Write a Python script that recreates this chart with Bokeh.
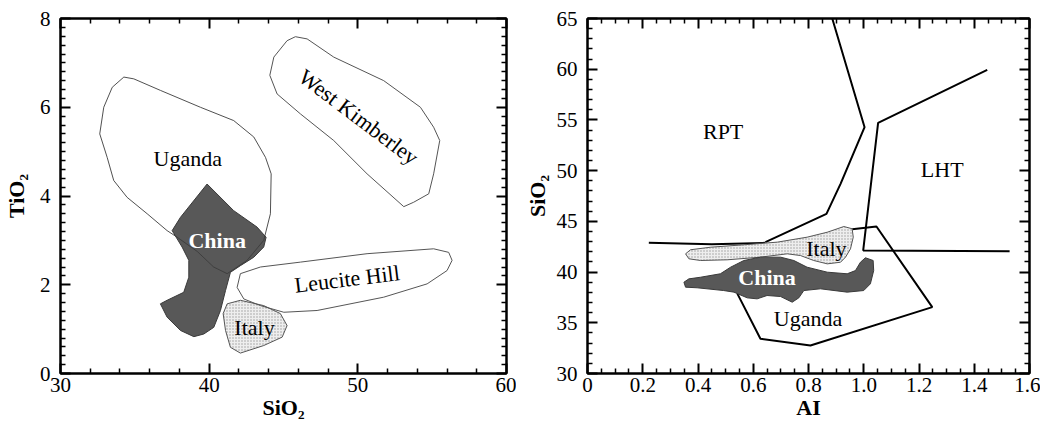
from bokeh.plotting import figure
from bokeh.layouts import row
from bokeh.models import LinearAxis, FixedTicker, Range1d, CustomLabelingPolicy
from bokeh.core.properties import value
from bokeh.embed import file_html
from bokeh.resources import INLINE

SERIF = "Liberation Serif"

# ---------------- Left panel: TiO2 vs SiO2 ----------------
left_x_ticks = [30, 40, 50, 60]
left_x_labels = ["30", "40", "50", "60"]
left_x_minor = [v for v in range(30, 61, 2) if v % 10 != 0]
left_y_ticks = [0, 2, 4, 6, 8]
left_y_labels = ["0", "2", "4", "6", "8"]
left_y_minor = [round(i * 0.2, 1) for i in range(0, 41) if i % 10 != 0]

uganda_L_x = [34.26, 33.48, 32.91, 32.64, 33.14, 33.58, 34.48, 35.83, 37.17, 37.85, 39.2, 40.3,
              41.21, 42.55, 43.67, 44.12, 44.17, 43.79, 43.0, 41.65, 39.41, 36.72, 34.93]
uganda_L_y = [6.68, 6.45, 6.0, 5.40, 4.87, 4.35, 3.97, 3.60, 3.22, 3.07, 2.75, 2.40,
              2.25, 2.55, 3.0, 3.60, 4.50, 4.87, 5.33, 5.70, 6.0, 6.38, 6.64]

kimberley_x = [45.80, 45.24, 44.35, 44.08, 44.57, 46.14, 48.38, 50.62, 53.09, 53.76, 54.77,
               55.10, 55.51, 55.10, 54.21, 51.74, 48.38, 46.59]
kimberley_y = [7.59, 7.50, 7.13, 6.72, 6.30, 5.85, 5.25, 4.50, 3.76, 3.86, 4.05,
               4.50, 5.25, 5.55, 6.0, 6.60, 7.13, 7.54]

leucite_x = [41.88, 42.10, 43.45, 46.14, 50.62, 55.10, 56.11, 56.34, 56.0, 54.66, 51.74,
             47.26, 45.02, 43.45, 42.33]
leucite_y = [1.94, 2.25, 2.40, 2.51, 2.70, 2.81, 2.73, 2.55, 2.32, 2.02, 1.72,
             1.42, 1.38, 1.53, 1.68]

italy_L_x = [41.21, 42.10, 43.67, 44.79, 45.24, 44.91, 43.67, 42.10, 41.43, 41.10, 40.94]
italy_L_y = [1.57, 1.65, 1.53, 1.35, 1.08, 0.82, 0.63, 0.46, 0.59, 0.97, 1.35]

china_L_x = [39.86, 41.65, 43.22, 43.83, 43.67, 43.0, 42.10, 41.43, 41.10, 40.76, 40.31,
             39.64, 38.97, 38.07, 37.17, 36.72, 37.17, 38.29, 38.63, 38.63, 38.18, 37.51, 38.07]
china_L_y = [4.27, 3.67, 3.30, 3.07, 2.85, 2.62, 2.43, 2.28, 1.87, 1.42, 1.04,
             0.89, 0.83, 0.97, 1.27, 1.57, 1.65, 1.83, 2.17, 2.55, 2.85, 3.22, 3.52]

left_label_text = ["Uganda", "West Kimberley", "Leucite Hill", "Italy"]
left_label_x = [38.56, 50.06, 49.28, 43.05]
left_label_y = [4.84, 5.78, 2.13, 1.04]
left_label_angle = [0, -37, 7, 0]
left_china_x = [40.54]
left_china_y = [3.0]

# ---------------- Right panel: SiO2 vs AI ----------------
right_x_ticks = [0, 0.2, 0.4, 0.6, 0.8, 1.0, 1.2, 1.4, 1.6]
right_x_labels = ["0", "0.2", "0.4", "0.6", "0.8", "1.0", "1.2", "1.4", "1.6"]
right_x_minor = [round(i * 0.05, 2) for i in range(0, 33) if i % 4 != 0]
right_y_ticks = [30, 35, 40, 45, 50, 55, 60, 65]
right_y_labels = ["30", "35", "40", "45", "50", "55", "60", "65"]
right_y_minor = [v for v in range(30, 66) if v % 5 != 0]

rpt_x = [0.886, 1.003, 0.916, 0.865, 0.644]
rpt_y = [65.0, 54.28, 48.70, 45.74, 42.95]
base_x = [0.222, 0.45, 0.644]
base_y = [42.9, 42.75, 42.88]
lht_x = [1.447, 1.052, 0.998, 1.528]
lht_y = [59.94, 54.71, 42.13, 42.05]
uganda_R_x = [0.958, 1.046, 1.248, 0.807, 0.626, 0.542]
uganda_R_y = [44.23, 44.49, 36.54, 32.76, 33.42, 37.9]

italy_R_x = [0.355, 0.373, 0.445, 0.566, 0.687, 0.795, 0.868, 0.928, 0.958, 0.962, 0.952,
             0.934, 0.916, 0.868, 0.819, 0.771, 0.723, 0.626, 0.506, 0.409, 0.367]
italy_R_y = [41.80, 42.20, 42.45, 42.69, 42.95, 43.44, 43.93, 44.49, 44.27, 43.44, 42.29,
             41.47, 40.97, 40.81, 41.14, 41.63, 41.80, 41.47, 41.21, 41.14, 41.31]

china_R_x = [0.349, 0.355, 0.397, 0.493, 0.530, 0.578, 0.614, 0.650, 0.699, 0.741, 0.765,
             0.783, 0.843, 0.940, 1.000, 1.024, 1.036, 1.034, 1.006, 0.988, 0.970, 0.940,
             0.868, 0.795, 0.747, 0.699, 0.626, 0.566, 0.518, 0.481, 0.409, 0.367]
china_R_y = [39.00, 38.51, 38.45, 38.18, 38.02, 37.46, 37.36, 37.69, 37.59, 37.03, 37.46,
             38.18, 38.35, 38.02, 38.18, 38.84, 40.15, 41.14, 41.41, 40.97, 40.15, 39.83,
             39.99, 40.48, 41.14, 41.47, 41.47, 41.14, 40.48, 39.83, 39.49, 39.33]

right_label_text = ["RPT", "LHT", "Italy", "Uganda"]
right_label_x = [0.491, 1.284, 0.865, 0.798]
right_label_y = [53.89, 50.08, 42.29, 35.39]
right_china_x = [0.650]
right_china_y = [39.49]

NO_LABELS = "for (const i of indices) { indices.unset(i) }\nreturn indices"


def style_axis(ax, ticker, overrides, show_labels, label=None, lstand=4, astand=0):
    ax.ticker = ticker
    ax.major_label_overrides = overrides
    ax.axis_line_width = 2
    ax.axis_line_color = "black"
    ax.major_tick_in = 10
    ax.major_tick_out = 0
    ax.minor_tick_in = 5
    ax.minor_tick_out = 0
    ax.major_tick_line_width = 2
    ax.minor_tick_line_width = 1.5
    ax.major_tick_line_color = "black"
    ax.minor_tick_line_color = "black"
    if show_labels:
        ax.major_label_text_font = SERIF
        ax.major_label_text_font_size = "21px"
        ax.major_label_text_color = "black"
        ax.major_label_standoff = lstand
        ax.axis_label = label
        ax.axis_label_text_font = SERIF
        ax.axis_label_text_font_style = "bold"
        ax.axis_label_text_font_size = "22px"
        ax.axis_label_text_color = "black"
        ax.axis_label_standoff = astand
    else:
        ax.major_label_text_font_size = "1px"
        ax.major_label_standoff = 0
        ax.major_label_policy = CustomLabelingPolicy(code=NO_LABELS)
        ax.axis_label = None


def make_fig(width, xr, yr, bl, br, xt, xl, xm, yt, yl, ym, xlabel, ylabel, ystand, yastand):
    p = figure(width=width, height=426, x_range=Range1d(*xr), y_range=Range1d(*yr),
               output_backend="svg", toolbar_location=None,
               min_border_left=bl, min_border_right=br, min_border_top=18, min_border_bottom=53)
    p.grid.visible = False
    p.outline_line_color = "black"
    p.outline_line_width = 2
    p.background_fill_color = "white"
    p.border_fill_color = "white"
    xo = dict(zip(xt, xl))
    yo = dict(zip(yt, yl))
    style_axis(p.xaxis[0], FixedTicker(ticks=xt, minor_ticks=xm), xo, True, xlabel, 4, 0)
    style_axis(p.yaxis[0], FixedTicker(ticks=yt, minor_ticks=ym), yo, True, ylabel, ystand, yastand)
    top = LinearAxis()
    style_axis(top, FixedTicker(ticks=xt, minor_ticks=xm), xo, False)
    p.add_layout(top, "above")
    right = LinearAxis()
    style_axis(right, FixedTicker(ticks=yt, minor_ticks=ym), yo, False)
    p.add_layout(right, "right")
    return p


# ---- left figure
p1 = make_fig(516, (30, 60), (0, 8), 60, 10, left_x_ticks, left_x_labels, left_x_minor,
              left_y_ticks, left_y_labels, left_y_minor, "SiO\u2082", "TiO\u2082", 10, 8)

p1.patch(kimberley_x, kimberley_y, fill_color=None, line_color="#555555", line_width=1)
p1.patch(italy_L_x, italy_L_y, fill_color="#eeeeee", hatch_pattern="dot", hatch_color="#9a9a9a",
         hatch_scale=3, hatch_weight=0.6, line_color="#555555", line_width=1)
p1.patch(leucite_x, leucite_y, fill_color=None, line_color="#555555", line_width=1)
p1.patch(china_L_x, china_L_y, fill_color="#585858", line_color="#3a3a3a", line_width=1)
p1.patch(uganda_L_x, uganda_L_y, fill_color=None, line_color="#3c3c3c", line_width=0.9)

p1.text(x=left_label_x, y=left_label_y, text=left_label_text, angle=left_label_angle,
        angle_units="deg", text_font=value(SERIF), text_font_size=value("22px"),
        text_align="center", text_baseline="middle", text_color="black")
p1.text(x=left_china_x, y=left_china_y, text=["China"], text_font=value(SERIF),
        text_font_size=value("22px"), text_font_style="bold", text_align="center",
        text_baseline="middle", text_color="white")

# ---- right figure
p2 = make_fig(524, (0, 1.6), (30, 65), 71, 11, right_x_ticks, right_x_labels, right_x_minor,
              right_y_ticks, right_y_labels, right_y_minor, "AI", "SiO\u2082", 10, 4)

p2.line(rpt_x, rpt_y, line_color="black", line_width=2)
p2.line(base_x, base_y, line_color="black", line_width=2)
p2.line(lht_x, lht_y, line_color="black", line_width=2)
p2.line(uganda_R_x, uganda_R_y, line_color="black", line_width=2)
p2.patch(italy_R_x, italy_R_y, fill_color="#eeeeee", hatch_pattern="dot", hatch_color="#9a9a9a",
         hatch_scale=3, hatch_weight=0.6, line_color="#555555", line_width=1)
p2.patch(china_R_x, china_R_y, fill_color="#585858", line_color="#3a3a3a", line_width=1)

p2.text(x=right_label_x, y=right_label_y, text=right_label_text, text_font=value(SERIF),
        text_font_size=value("22px"), text_align="center", text_baseline="middle",
        text_color="black")
p2.text(x=right_china_x, y=right_china_y, text=["China"], text_font=value(SERIF),
        text_font_size=value("22px"), text_font_style="bold", text_align="center",
        text_baseline="middle", text_color="white")

layout = row(p1, p2, spacing=0)
open("out.html", "w").write(file_html(layout, INLINE))
